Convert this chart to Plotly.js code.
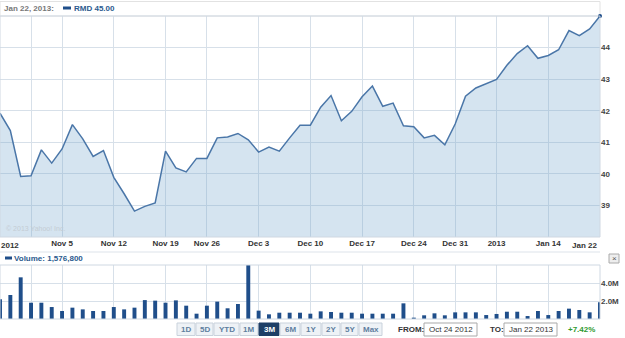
<!DOCTYPE html>
<html><head><meta charset="utf-8">
<script src="https://cdn.plot.ly/plotly-3.0.1.min.js"></script>
<style>html,body{margin:0;padding:0;background:#fff}#chart{width:625px;height:338px}</style>
</head><body><div id="chart"></div>
<script>
const dates = ['2012-10-24','2012-10-25','2012-10-26','2012-10-31','2012-11-01','2012-11-02','2012-11-05','2012-11-06','2012-11-07','2012-11-08','2012-11-09','2012-11-12','2012-11-13','2012-11-14','2012-11-15','2012-11-16','2012-11-19','2012-11-20','2012-11-21','2012-11-23','2012-11-26','2012-11-27','2012-11-28','2012-11-29','2012-11-30','2012-12-03','2012-12-04','2012-12-05','2012-12-06','2012-12-07','2012-12-10','2012-12-11','2012-12-12','2012-12-13','2012-12-14','2012-12-17','2012-12-18','2012-12-19','2012-12-20','2012-12-21','2012-12-24','2012-12-26','2012-12-27','2012-12-28','2012-12-31','2013-01-02','2013-01-03','2013-01-04','2013-01-07','2013-01-08','2013-01-09','2013-01-10','2013-01-11','2013-01-14','2013-01-15','2013-01-16','2013-01-17','2013-01-18','2013-01-22'];
const closePrice = [41.92,41.37,39.92,39.94,40.76,40.34,40.79,41.56,41.11,40.55,40.74,39.89,39.37,38.82,38.97,39.08,40.72,40.19,40.06,40.49,40.49,41.14,41.17,41.28,41.08,40.69,40.85,40.72,41.14,41.54,41.54,42.11,42.48,41.68,41.98,42.44,42.78,42.14,42.24,41.52,41.49,41.14,41.22,40.92,41.58,42.46,42.72,42.86,42.99,43.44,43.81,44.06,43.66,43.75,43.93,44.54,44.38,44.59,45.00];
const volume = [2200000,2670000,4630000,1810000,1810000,1330000,890000,1260000,1070000,890000,890000,1330000,1070000,1260000,2100000,2040000,1810000,2070000,1480000,590000,1480000,1930000,1190000,1670000,6300000,930000,520000,700000,700000,700000,590000,850000,780000,700000,700000,590000,590000,590000,590000,1740000,150000,410000,630000,410000,740000,740000,740000,440000,560000,810000,810000,330000,890000,440000,890000,1150000,1000000,740000,1850000];
const gridDates = ['2012-10-31','2012-11-05','2012-11-12','2012-11-19','2012-11-26','2012-12-03','2012-12-10','2012-12-17','2012-12-24','2012-12-31','2013-01-07','2013-01-14'];
const gridLabels = ['','Nov 5','Nov 12','Nov 19','Nov 26','Dec 3','Dec 10','Dec 17','Dec 24','Dec 31','2013','Jan 14'];
const priceTicks = [39,40,41,42,43,44];
const volTicks = [2000000,4000000];
const volTickLabels = ['2.0M','4.0M'];
const rangeButtons = ['1D','5D','YTD','1M','3M','6M','1Y','2Y','5Y','Max'];
const activeButton = '3M';

const W=625,H=338;
const X=p=>p/W, Y=p=>1-p/H;
const F='Liberation Sans';
const gridC='#d7e0e9';
const n=dates.length;

const traces=[
 {x:dates,y:closePrice,type:'scatter',mode:'lines',fill:'tozeroy',fillcolor:'rgba(115,165,205,0.3)',line:{color:'#4a76a8',width:1.5},xaxis:'x',yaxis:'y',hoverinfo:'none'},
 {x:[dates[n-1]],y:[closePrice[n-1]],type:'scatter',mode:'markers',marker:{size:4,color:'#1f4e8a',line:{width:0}},xaxis:'x',yaxis:'y',cliponaxis:false,hoverinfo:'none'},
 {x:dates,y:volume,type:'bar',marker:{color:'#1f4e8a',line:{width:0}},width:0.38,xaxis:'x2',yaxis:'y2',hoverinfo:'none'}
];

const tickFont={family:F,size:8,color:'#333',weight:'bold'};
const layout={
 width:W,height:H,margin:{l:0,r:0,t:0,b:0},showlegend:false,
 paper_bgcolor:'#fff',plot_bgcolor:'rgba(0,0,0,0)',
 xaxis:{type:'category',categoryorder:'array',categoryarray:dates,range:[0,n-1],domain:[0,600/W],anchor:'y',
   tickmode:'array',tickvals:gridDates,ticktext:gridLabels,showgrid:true,gridcolor:gridC,gridwidth:1,ticks:'',
   tickfont:tickFont,zeroline:false,showline:false,automargin:false,fixedrange:true},
 yaxis:{domain:[1-237/H,1-16/H],range:[38,45],side:'right',tickmode:'array',tickvals:priceTicks,
   showgrid:true,gridcolor:gridC,gridwidth:1,ticks:'',tickfont:{family:F,size:8,color:'#444',weight:'bold'},zeroline:false,automargin:false},
 xaxis2:{type:'category',categoryorder:'array',categoryarray:dates,range:[0,n-1],domain:[0,600/W],anchor:'y2',matches:'x',
   tickmode:'array',tickvals:gridDates,showticklabels:false,showgrid:true,gridcolor:gridC,ticks:'',zeroline:false,automargin:false},
 yaxis2:{domain:[1-319/H,1-265/H],range:[0,6000000],side:'right',tickmode:'array',tickvals:volTicks,ticktext:volTickLabels,
   showgrid:true,gridcolor:gridC,ticks:'',tickfont:{family:F,size:8,color:'#444',weight:'bold'},zeroline:false,automargin:false},
 shapes:[],annotations:[]
};
const S=layout.shapes, A=layout.annotations;
S.push({type:'rect',xref:'paper',yref:'paper',x0:X(0),x1:X(600),y0:Y(16),y1:Y(1.5),line:{color:'#e2e2e2',width:1},fillcolor:'#fff',layer:'below'});
S.push({type:'rect',xref:'paper',yref:'paper',x0:X(0),x1:X(600),y0:Y(237),y1:Y(16),line:{color:'#cfd8e2',width:1},fillcolor:'rgba(0,0,0,0)'});
S.push({type:'rect',xref:'paper',yref:'paper',x0:X(0),x1:X(600),y0:Y(319),y1:Y(265),line:{color:'#cfd8e2',width:1},fillcolor:'rgba(0,0,0,0)'});
S.push({type:'line',xref:'paper',yref:'paper',x0:X(0),x1:X(600),y0:Y(252),y1:Y(252),line:{color:'#dde3ea',width:1}});
S.push({type:'rect',xref:'paper',yref:'paper',x0:X(63),x1:X(71),y0:Y(9.5),y1:Y(6.5),line:{width:0},fillcolor:'#1f4e8a'});
S.push({type:'rect',xref:'paper',yref:'paper',x0:X(5),x1:X(12),y0:Y(259.5),y1:Y(256.5),line:{width:0},fillcolor:'#1f4e8a'});
S.push({type:'rect',xref:'paper',yref:'paper',x0:X(609),x1:X(619),y0:Y(263),y1:Y(254),line:{color:'#aaa',width:1},fillcolor:'#eee'});
A.push({xref:'paper',yref:'paper',x:X(614),y:Y(258.5),text:'×',showarrow:false,font:{family:F,size:8,color:'#555'},xanchor:'center',yanchor:'middle'});

const ann=(x,y,text,opt={})=>A.push(Object.assign({xref:'paper',yref:'paper',x:X(x),y:Y(y),text,showarrow:false,xanchor:'left',yanchor:'middle',font:{family:F,size:8,color:'#333',weight:'bold'}},opt));
ann(2,8.5,'Jan 22, 2013:',{font:{family:F,size:8,color:'#777',weight:'bold'}});
ann(72,8.5,'RMD '+closePrice[n-1].toFixed(2),{font:{family:F,size:8,color:'#2b5a8e',weight:'bold'}});
ann(12,258.5,'Volume: 1,576,800',{font:{family:F,size:8,color:'#2b5a8e',weight:'bold'}});
ann(4,228,'© 2013 Yahoo! Inc.',{font:{family:F,size:7,color:'#c4ccd4'}});
ann(-1,245.5,'2012');
ann(599,245.5,'Jan 22',{xanchor:'right'});

const bx=[[177,195],[196,213],[214,239],[240,258],[259,279],[280,300],[301,321],[322,340],[341,358],[359,382]];
rangeButtons.forEach((b,i)=>{
  const act=b===activeButton;
  S.push({type:'rect',xref:'paper',yref:'paper',x0:X(bx[i][0]),x1:X(bx[i][1]),y0:Y(335.5),y1:Y(323),line:{color:act?'#1e3f66':'#c9d2dc',width:1},fillcolor:act?'#1e3f66':'#eef2f6'});
  ann((bx[i][0]+bx[i][1])/2,329.5,b,{xanchor:'center',font:{family:F,size:8,color:act?'#fff':'#5f7f9f',weight:'bold'}});
});
ann(396,329.5,'FROM:');
S.push({type:'rect',xref:'paper',yref:'paper',x0:X(424),x1:X(477),y0:Y(336),y1:Y(323),line:{color:'#a9a9a9',width:1},fillcolor:'#fff'});
ann(427,329.5,'Oct 24 2012',{font:{family:F,size:8,color:'#333'}});
ann(488,329.5,'TO:');
S.push({type:'rect',xref:'paper',yref:'paper',x0:X(504),x1:X(557),y0:Y(336),y1:Y(323),line:{color:'#a9a9a9',width:1},fillcolor:'#fff'});
ann(507,329.5,'Jan 22 2013',{font:{family:F,size:8,color:'#333'}});
ann(566,329.5,'+7.42%',{font:{family:F,size:8,color:'#2e9a2e',weight:'bold'}});

Plotly.newPlot('chart',traces,layout,{staticPlot:true,displayModeBar:false});
</script></body></html>
